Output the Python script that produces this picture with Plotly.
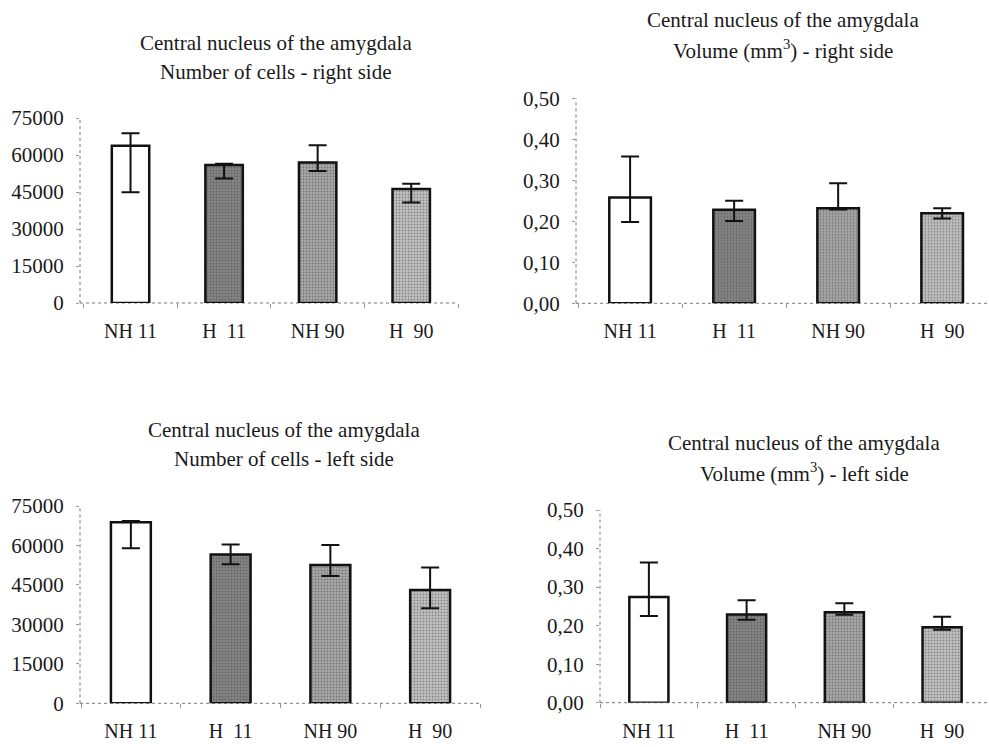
import plotly.graph_objects as go

# ---------------- data ----------------
groups = ["NH\u00a011", "H\u00a0\u00a011", "NH\u00a090", "H\u00a0\u00a090"]

cells_right_mean = [63800, 55900, 57000, 46200]
cells_right_plus = [5000, 600, 7000, 2100]
cells_right_minus = [18900, 5400, 3500, 5500]

vol_right_mean = [0.258, 0.228, 0.232, 0.2195]
vol_right_plus = [0.100, 0.022, 0.061, 0.0125]
vol_right_minus = [0.060, 0.027, 0.003, 0.0125]

cells_left_mean = [68800, 56600, 52600, 43100]
cells_left_plus = [500, 3800, 7600, 8500]
cells_left_minus = [9900, 3700, 4200, 7000]

vol_left_mean = [0.274, 0.229, 0.235, 0.196]
vol_left_plus = [0.090, 0.037, 0.023, 0.027]
vol_left_minus = [0.049, 0.014, 0.007, 0.007]

cells_ticks = [0, 15000, 30000, 45000, 60000, 75000]
cells_ticktext = ["0", "15000", "30000", "45000", "60000", "75000"]
vol_ticks = [0.0, 0.1, 0.2, 0.3, 0.4, 0.5]
vol_ticktext = ["0,00", "0,10", "0,20", "0,30", "0,40", "0,50"]

titles = [
    ("Central nucleus of the amygdala", "Number of cells - right side"),
    ("Central nucleus of the amygdala", "Volume (mm<sup>3</sup>) - right side"),
    ("Central nucleus of the amygdala", "Number of cells - left side"),
    ("Central nucleus of the amygdala", "Volume (mm<sup>3</sup>) - left side"),
]

# ---------------- style ----------------
W, H = 989, 747
FONT = "Liberation Serif"
TXT = "#1a1a1a"
bar_bg = ["#ffffff", "#858585", "#a8a8a8", "#c2c2c2"]
bar_fg = ["#ffffff", "#5a5a5a", "#7c7c7c", "#959595"]
bar_shape = ["", ".", ".", "."]

# panel geometry in pixels: x-axis left, right ; y pixel of bottom, top
panels = [
    dict(x0=80, x1=458, yb=303, yt=118, xr=[-0.54, 3.5]),
    dict(x0=576, x1=989, yb=303.3, yt=98.3, xr=[-0.52, 3.45]),
    dict(x0=80, x1=480, yb=703.3, yt=506, xr=[-0.51, 3.5]),
    dict(x0=600, x1=989, yb=702.7, yt=510, xr=[-0.5, 3.48]),
]
title_pos = [(276, 43, 72), (783, 20, 50), (284, 430, 459), (804, 443, 472)]

series = [
    (cells_right_mean, cells_right_plus, cells_right_minus, cells_ticks, cells_ticktext, [0, 75000]),
    (vol_right_mean, vol_right_plus, vol_right_minus, vol_ticks, vol_ticktext, [0, 0.5]),
    (cells_left_mean, cells_left_plus, cells_left_minus, cells_ticks, cells_ticktext, [0, 75000]),
    (vol_left_mean, vol_left_plus, vol_left_minus, vol_ticks, vol_ticktext, [0, 0.5]),
]

fig = go.Figure()
layout = dict(
    width=W, height=H,
    margin=dict(l=0, r=0, t=0, b=0, pad=0),
    paper_bgcolor="white", plot_bgcolor="white",
    showlegend=False,
    font=dict(family=FONT, color=TXT, size=20),
)
shapes = []
annotations = []

for i, (p, s) in enumerate(zip(panels, series)):
    mean, plus, minus, tv, tt, yr = s
    sfx = "" if i == 0 else str(i + 1)
    fig.add_trace(go.Bar(
        x=groups, y=mean,
        xaxis="x" + sfx, yaxis="y" + sfx,
        width=0.4,
        marker=dict(
            color=bar_bg,
            line=dict(color="#111111", width=2.5),
            pattern=dict(shape=bar_shape, fgcolor=bar_fg, bgcolor=bar_bg, size=3, solidity=0.3),
        ),
        error_y=dict(type="data", symmetric=False, array=plus, arrayminus=minus,
                     color="#111111", thickness=2, width=9),
    ))
    layout["xaxis" + sfx] = dict(
        domain=[p["x0"] / W, p["x1"] / W],
        anchor="y" + sfx,
        type="category",
        range=p["xr"],
        automargin=False,
        showgrid=False, zeroline=False, showline=False,
        ticks="outside", tickson="boundaries", ticklen=4, tickcolor="#999999", tickwidth=1,
        tickfont=dict(family=FONT, size=20, color=TXT),
        ticklabelstandoff=14,
        fixedrange=True,
    )
    layout["yaxis" + sfx] = dict(
        domain=[1 - p["yb"] / H, 1 - p["yt"] / H],
        anchor="x" + sfx,
        range=yr,
        automargin=False,
        tickvals=tv, ticktext=tt,
        showgrid=False, zeroline=False, showline=False,
        ticks="outside", ticklen=3, tickcolor="#999999", tickwidth=1,
        tickfont=dict(family=FONT, size=21, color=TXT),
        ticklabelstandoff=8,
        fixedrange=True,
    )
    xd = "x" + sfx + " domain"
    yd = "y" + sfx + " domain"
    shapes.append(dict(type="line", xref=xd, yref=yd, x0=0, x1=1, y0=0, y1=0,
                       line=dict(color="#777777", width=1, dash="dot"), layer="below"))
    shapes.append(dict(type="line", xref=xd, yref=yd, x0=0, x1=0, y0=0, y1=1,
                       line=dict(color="#777777", width=1, dash="dot"), layer="below"))
    cx, ya, yb2 = title_pos[i]
    for txt, ypx in zip(titles[i], (ya, yb2)):
        annotations.append(dict(
            text=txt, xref="paper", yref="paper", x=cx / W, y=1 - ypx / H,
            xanchor="center", yanchor="middle", showarrow=False,
            font=dict(family=FONT, size=21, color=TXT),
        ))

layout["shapes"] = shapes
layout["annotations"] = annotations
fig.update_layout(**layout)
fig.write_html("out.html")
